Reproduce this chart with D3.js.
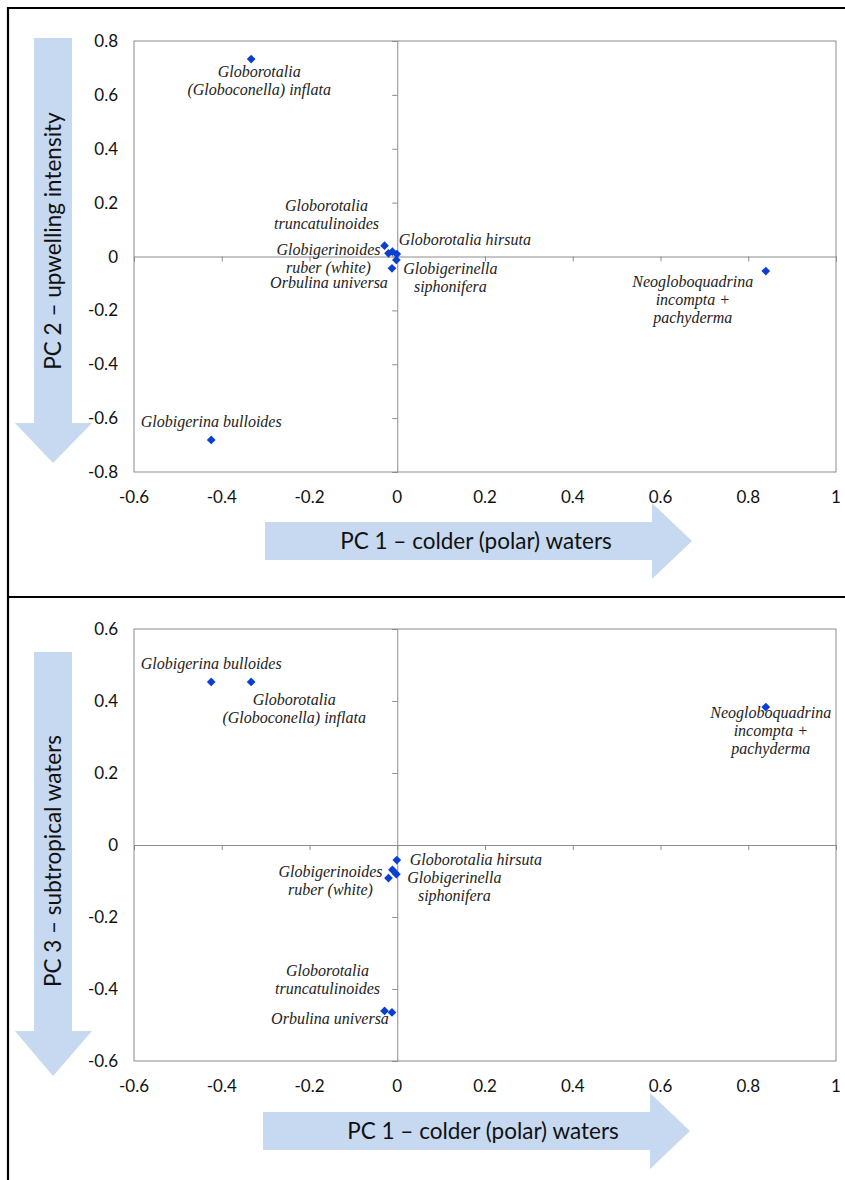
<!DOCTYPE html>
<html>
<head>
<meta charset="utf-8">
<script src="https://cdn.jsdelivr.net/npm/d3@7"></script>
<style>
  html, body { margin: 0; padding: 0; background: #fff; }
  svg { display: block; }
</style>
</head>
<body>
<svg id="chart" width="845" height="1180"></svg>
<script>
// Foraminifera species PCA scores
const species = [
  "Globorotalia (Globoconella) inflata",
  "Globigerina bulloides",
  "Neogloboquadrina incompta + pachyderma",
  "Globorotalia truncatulinoides",
  "Globigerinoides ruber (white)",
  "Orbulina universa",
  "Globorotalia hirsuta",
  "Globigerinella siphonifera",
  null
];
const pc1 = [-0.333, -0.424, 0.840, -0.029, -0.020, -0.012, -0.001, -0.002, -0.011];
const pc2 = [0.733, -0.681, -0.054, 0.040, 0.012, -0.044, 0.009, -0.013, 0.018];
const pc3 = [0.453, 0.453, 0.383, -0.461, -0.092, -0.465, -0.042, -0.081, -0.069];

// Label line breaks
const labelLines = [
  ["Globorotalia", "(Globoconella) inflata"],
  ["Globigerina bulloides"],
  ["Neogloboquadrina", "incompta +", "pachyderma"],
  ["Globorotalia", "truncatulinoides"],
  ["Globigerinoides", "ruber (white)"],
  ["Orbulina universa"],
  ["Globorotalia hirsuta"],
  ["Globigerinella", "siphonifera"],
  []
];

const xTicks = [-0.6, -0.4, -0.2, 0, 0.2, 0.4, 0.6, 0.8, 1];
const yTicksTop = [-0.8, -0.6, -0.4, -0.2, 0, 0.2, 0.4, 0.6, 0.8];
const yTicksBottom = [-0.6, -0.4, -0.2, 0, 0.2, 0.4, 0.6];

const xTitle = "PC 1 \u2013 colder (polar) waters";
const yTitleTop = "PC 2 \u2013 upwelling intensity";
const yTitleBottom = "PC 3 \u2013 subtropical waters";

// Label offsets from each marker (dx, dy of first baseline)
const labelOffsetTop = [[8, 18], [0, -13], [-73, 16], [-58, -35], [-60, 2], [-63, 20], [68, -9], [54, 14], [0, 0]];
const labelOffsetBottom = [[43, 23], [0, -13], [5, 11], [-57, -35], [-58, -1], [-62, 12], [79, 5], [58, 9], [0, 0]];

const svg = d3.select("#chart");
const ARROW = "#c6d9f0";
const MARK = "#0a3fd1";
const SANS = "Lato, 'Open Sans', sans-serif";
const SERIF = "'Liberation Serif', 'DejaVu Serif', serif";

// Outer frame lines
const frame = svg.append("g").attr("stroke", "#000").attr("stroke-width", 2.2);
frame.append("line").attr("x1", 8).attr("x2", 845).attr("y1", 8).attr("y2", 8);
frame.append("line").attr("x1", 8).attr("x2", 8).attr("y1", 7).attr("y2", 1180);
frame.append("line").attr("x1", 8).attr("x2", 845).attr("y1", 597).attr("y2", 597);

const fmt = v => (Math.abs(v) < 1e-9 ? "0" : String(+v.toFixed(1)));

function drawPanel(cfg) {
  const x = d3.scaleLinear().domain([-0.6, 1]).range([134, 836]);
  const y = d3.scaleLinear().domain(cfg.yDomain).range(cfg.yRange);
  const g = svg.append("g");

  // vertical arrow
  const va = cfg.vArrow;
  g.append("path")
    .attr("d", `M34,${va.top} H72 V${va.headTop} H92 L53,${va.tip} L15,${va.headTop} H34 Z`)
    .attr("fill", ARROW);
  g.append("text")
    .attr("transform", `translate(61,${va.textY}) rotate(-90)`)
    .attr("text-anchor", "middle")
    .attr("font-family", SANS).attr("font-size", 22.5).attr("fill", "#111")
    .text(cfg.yTitle);

  // horizontal arrow
  const ha = cfg.hArrow;
  g.append("path")
    .attr("d", `M${ha.left},${ha.cy - 19} H${ha.headX} V${ha.cy - 38} L${ha.tip},${ha.cy} L${ha.headX},${ha.cy + 38} V${ha.cy + 19} H${ha.left} Z`)
    .attr("fill", ARROW);
  g.append("text")
    .attr("x", ha.textX).attr("y", ha.cy + 8)
    .attr("text-anchor", "middle")
    .attr("font-family", SANS).attr("font-size", 22.5).attr("fill", "#111")
    .text(xTitle);

  // plot frame
  g.append("rect")
    .attr("x", x.range()[0]).attr("y", cfg.yRange[1])
    .attr("width", x.range()[1] - x.range()[0])
    .attr("height", cfg.yRange[0] - cfg.yRange[1])
    .attr("fill", "none").attr("stroke", "#8c8c8c").attr("stroke-width", 1);

  // zero axes with tick marks
  const xAxis = d3.axisBottom(x).tickValues(xTicks).tickSize(5).tickFormat("");
  g.append("g").attr("transform", `translate(0,${y(0)})`).call(xAxis)
    .call(s => s.selectAll("path,line").attr("stroke", "#8c8c8c"));
  const yAxis = d3.axisLeft(y).tickValues(cfg.yTicks).tickSize(5).tickFormat("");
  g.append("g").attr("transform", `translate(${x(0)},0)`).call(yAxis)
    .call(s => s.selectAll("path,line").attr("stroke", "#8c8c8c"));

  // tick labels placed along the frame edges
  g.append("g").selectAll("text").data(xTicks).join("text")
    .attr("x", d => x(d)).attr("y", cfg.yRange[0] + 31)
    .attr("text-anchor", "middle")
    .attr("font-family", SANS).attr("font-size", 17).attr("fill", "#111")
    .text(fmt);
  g.append("g").selectAll("text").data(cfg.yTicks).join("text")
    .attr("x", 118).attr("y", d => y(d) + 6)
    .attr("text-anchor", "end")
    .attr("font-family", SANS).attr("font-size", 17).attr("fill", "#111")
    .text(fmt);

  // markers
  const idx = d3.range(species.length);
  g.append("g").selectAll("path").data(idx).join("path")
    .attr("d", d3.symbol(d3.symbolSquare, 38))
    .attr("transform", i => `translate(${x(pc1[i])},${y(cfg.values[i])}) rotate(45)`)
    .attr("fill", MARK);

  // labels
  const lab = g.append("g").selectAll("text").data(idx.filter(i => labelLines[i].length)).join("text")
    .attr("text-anchor", "middle")
    .attr("font-family", SERIF).attr("font-style", "italic")
    .attr("font-size", 16).attr("fill", "#222");
  lab.each(function (i) {
    const t = d3.select(this);
    const cx = x(pc1[i]) + cfg.offsets[i][0];
    const cy = y(cfg.values[i]) + cfg.offsets[i][1];
    labelLines[i].forEach((ln, k) => {
      t.append("tspan").attr("x", cx).attr("y", cy + k * 18).text(ln);
    });
  });
}

drawPanel({
  yDomain: [-0.8, 0.8], yRange: [472, 41], yTicks: yTicksTop, values: pc2,
  offsets: labelOffsetTop, yTitle: yTitleTop,
  vArrow: { top: 38, headTop: 423, tip: 463, textY: 241 },
  hArrow: { left: 265, headX: 652, tip: 692, cy: 541, textX: 476 }
});
drawPanel({
  yDomain: [-0.6, 0.6], yRange: [1061, 629], yTicks: yTicksBottom, values: pc3,
  offsets: labelOffsetBottom, yTitle: yTitleBottom,
  vArrow: { top: 652, headTop: 1031, tip: 1076, textY: 861 },
  hArrow: { left: 263, headX: 650, tip: 690, cy: 1131, textX: 483 }
});
</script>
</body>
</html>
